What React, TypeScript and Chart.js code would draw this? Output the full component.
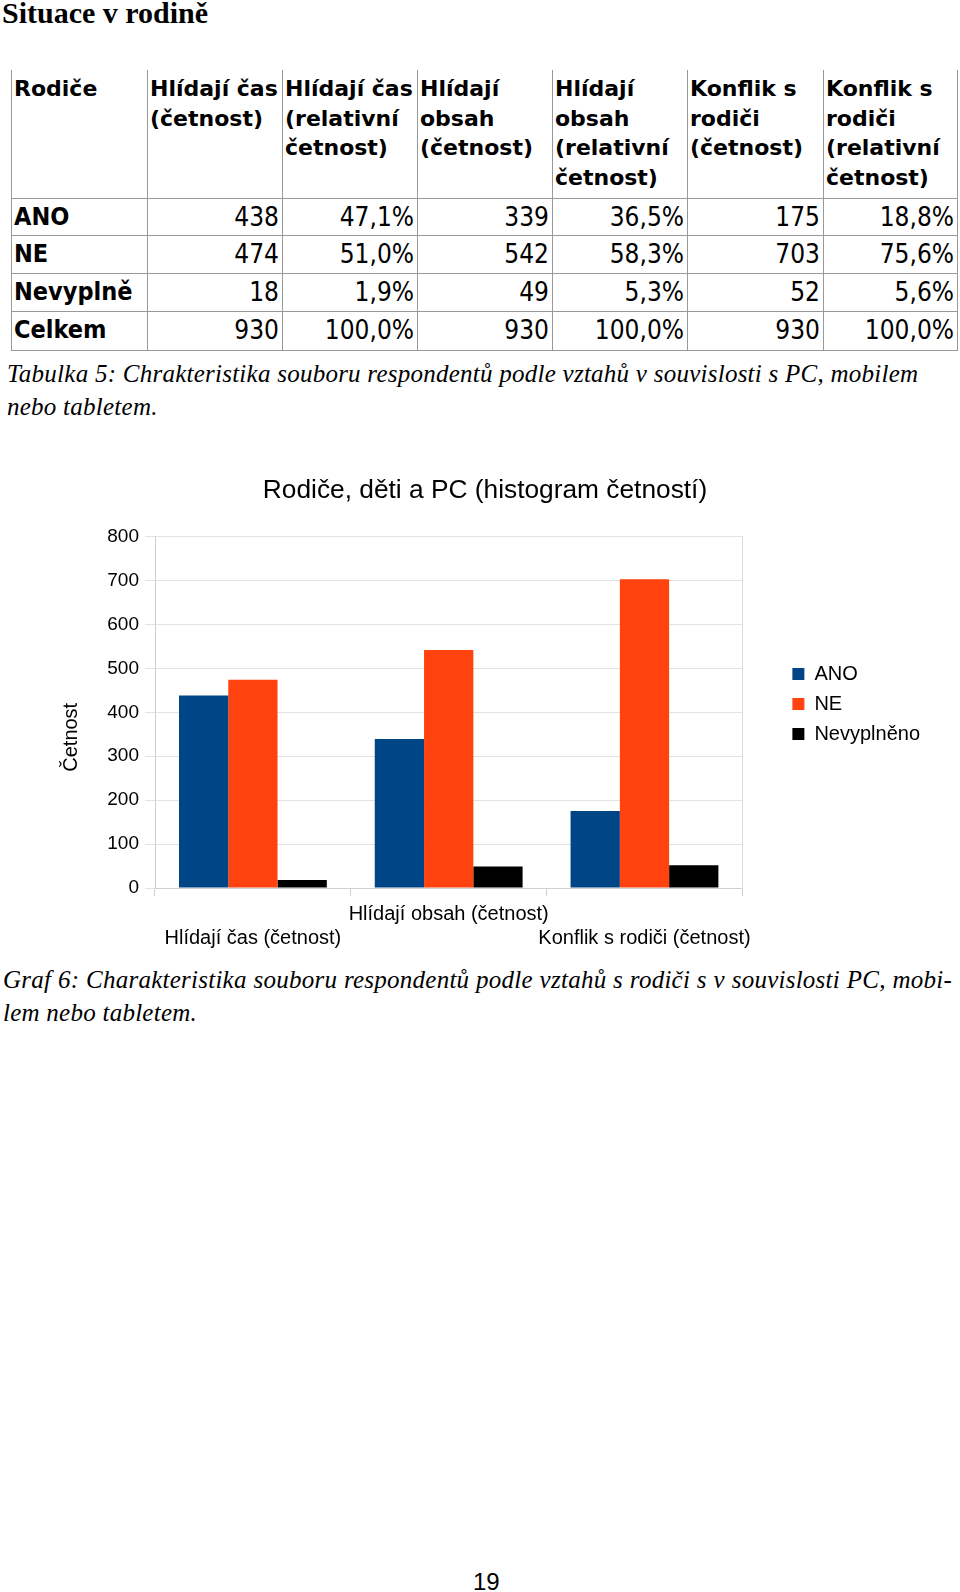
import React, { useEffect, useRef } from "react";
import { Chart, registerables } from "chart.js";

Chart.register(...registerables);

// ---------- chart data ----------
const categories = ["Hlídají čas (četnost)", "Hlídají obsah (četnost)", "Konflik s rodiči (četnost)"];
const seriesNames = ["ANO", "NE", "Nevyplněno"];
const anoValues = [438, 339, 175];
const neValues = [474, 542, 703];
const nevyplnenoValues = [18, 49, 52];
const seriesColors = ["#004586", "#ff420e", "#000000"];
const yMin = 0;
const yMax = 800;
const yStep = 100;
const chartTitle = "Rodiče, děti a PC (histogram četností)";
const yTitle = "Četnost";

// ---------- table data ----------
const tableHeaders = [
  ["Rodiče"],
  ["Hlídají čas", "(četnost)"],
  ["Hlídají čas", "(relativní", "četnost)"],
  ["Hlídají", "obsah", "(četnost)"],
  ["Hlídají", "obsah", "(relativní", "četnost)"],
  ["Konflik s", "rodiči", "(četnost)"],
  ["Konflik s", "rodiči", "(relativní", "četnost)"],
];
const rowLabels = ["ANO", "NE", "Nevyplně", "Celkem"];
const tableRows = [
  ["438", "47,1%", "339", "36,5%", "175", "18,8%"],
  ["474", "51,0%", "542", "58,3%", "703", "75,6%"],
  ["18", "1,9%", "49", "5,3%", "52", "5,6%"],
  ["930", "100,0%", "930", "100,0%", "930", "100,0%"],
];

const heading = "Situace v rodině";
const caption1Lines = [
  "Tabulka 5: Chrakteristika souboru respondentů podle vztahů v souvislosti s PC, mobilem",
  "nebo tabletem.",
];
const caption2Lines = [
  "Graf 6: Charakteristika souboru respondentů podle vztahů s rodiči s v souvislosti PC, mobi-",
  "lem nebo tabletem.",
];
const pageNumber = "19";

const SANS = "'Liberation Sans', Arial, sans-serif";
const SERIF = "'Liberation Serif', 'Times New Roman', serif";
const COND = "'DejaVu Sans Condensed', 'DejaVu Sans', sans-serif";

const colX = [11, 147, 282, 417, 552, 687, 823, 957];
const rowY = [70, 198, 235, 273, 311, 350];
const LINE = "#999999";

const legendShift = {
  id: "legendShift",
  afterLayout(chart: any) {
    const lg = chart.legend;
    if (lg) {
      lg.top -= 4;
      lg.bottom -= 4;
    }
  },
};

function BarChart() {
  const ref = useRef<HTMLCanvasElement | null>(null);
  useEffect(() => {
    if (!ref.current) return;
    const seriesValues = [anoValues, neValues, nevyplnenoValues];
    const chart = new Chart(ref.current, {
      type: "bar",
      data: {
        labels: categories,
        datasets: seriesNames.map((name, i) => ({
          label: name,
          data: seriesValues[i],
          backgroundColor: seriesColors[i],
          borderWidth: 0,
          categoryPercentage: 0.755,
          barPercentage: 1,
        })),
      },
      options: {
        responsive: false,
        animation: false,
        devicePixelRatio: 1,
        layout: { padding: { left: 0, right: 10, top: 0, bottom: 0 } },
        plugins: {
          title: {
            display: true,
            text: chartTitle,
            color: "#000",
            font: { family: SANS, size: 26.3, weight: "normal" },
            padding: { top: 15, bottom: 30 },
          },
          legend: {
            position: "right",
            labels: {
              color: "#000",
              font: { family: SANS, size: 20 },
              boxWidth: 12,
              boxHeight: 12,
              padding: 10,
            },
          },
          tooltip: { enabled: false },
        },
        scales: {
          x: {
            grid: { display: true, drawOnChartArea: false, tickLength: 8, color: "#cfcfcf", offset: true },
            border: { display: true, color: "#cfcfcf" },
            ticks: {
              color: "#000",
              font: { family: SANS, size: 20 },
              padding: 6,
              maxRotation: 0,
              autoSkip: false,
              callback: (_v: any, i: number) => {
                const l = categories[i];
                return i % 2 === 1 ? [l, ""] : ["", l];
              },
            },
          },
          y: {
            min: yMin,
            max: yMax,
            ticks: { stepSize: yStep, color: "#000", font: { family: SANS, size: 19 }, padding: 6 },
            grid: { color: "#e3e3e3", tickLength: 10 },
            border: { display: true, color: "#cfcfcf" },
            title: {
              display: true,
              text: yTitle + "         ",
              color: "#000",
              font: { family: SANS, size: 20 },
              padding: { top: 19, bottom: 0 },
            },
            afterFit: (s: any) => {
              s.width = 115;
            },
          },
          y2: {
            position: "right",
            display: true,
            grid: { display: false },
            ticks: { display: false },
            border: { display: true, color: "#dcdcdc" },
            afterFit: (s: any) => {
              s.width = 40;
            },
          },
        },
      },
      plugins: [legendShift],
    } as any);
    return () => chart.destroy();
  }, []);
  return (
    <canvas
      ref={ref}
      width={900}
      height={496}
      style={{ position: "absolute", left: 40, top: 460, width: 900, height: 496 }}
    />
  );
}

export default function App() {
  const lines: React.ReactNode[] = [];
  colX.forEach((x, i) => {
    lines.push(
      <div key={"v" + i} style={{ position: "absolute", left: x, top: rowY[0], width: 1, height: rowY[rowY.length - 1] - rowY[0] + 1, background: LINE }} />
    );
  });
  rowY.slice(1).forEach((y, i) => {
    lines.push(
      <div key={"h" + i} style={{ position: "absolute", left: colX[0], top: y, width: colX[colX.length - 1] - colX[0] + 1, height: 1, background: LINE }} />
    );
  });

  return (
    <div style={{ position: "absolute", left: 0, top: 0, width: 960, height: 1592, overflow: "hidden", background: "#fff", color: "#000" }}>
      <div style={{ position: "absolute", left: 2, top: -2, fontFamily: SERIF, fontWeight: "bold", fontSize: 30, lineHeight: "30px", whiteSpace: "nowrap" }}>
        {heading}
      </div>

      {lines}

      {tableHeaders.map((h, i) => (
        <div
          key={"th" + i}
          style={{
            position: "absolute",
            left: colX[i] + 3,
            top: rowY[0] + 4,
            fontFamily: "'DejaVu Sans', sans-serif",
            fontWeight: "bold",
            fontSize: 22,
            lineHeight: "29.5px",
            whiteSpace: "nowrap",
          }}
        >
          {h.map((t, k) => (
            <div key={k}>{t}</div>
          ))}
        </div>
      ))}

      {rowLabels.map((lab, r) => (
        <React.Fragment key={"r" + r}>
          <div
            style={{
              position: "absolute",
              left: colX[0] + 3,
              top: rowY[r + 1] + 6,
              fontFamily: COND,
              fontStretch: "condensed",
              fontWeight: "bold",
              fontSize: 25,
              lineHeight: "26px",
              whiteSpace: "nowrap",
            }}
          >
            {lab}
          </div>
          {tableRows[r].map((v, c) => (
            <div
              key={c}
              style={{
                position: "absolute",
                left: colX[c + 1],
                width: colX[c + 2] - colX[c + 1] - 3,
                top: rowY[r + 1] + 6,
                textAlign: "right",
                fontFamily: COND,
                fontStretch: "condensed",
                fontSize: 26,
                lineHeight: "26px",
                whiteSpace: "nowrap",
              }}
            >
              {v}
            </div>
          ))}
        </React.Fragment>
      ))}

      {caption1Lines.map((t, i) => (
        <div
          key={"c1" + i}
          style={{ position: "absolute", left: 7, top: 361 + i * 33, fontFamily: SERIF, fontStyle: "italic", fontSize: 25, lineHeight: "25px", letterSpacing: 0.25, whiteSpace: "nowrap" }}
        >
          {t}
        </div>
      ))}

      <BarChart />

      {caption2Lines.map((t, i) => (
        <div
          key={"c2" + i}
          style={{
            position: "absolute",
            left: 3,
            top: 967 + i * 33,
            width: i === 0 ? 949 : undefined,
            textAlign: i === 0 ? "justify" : "left",
            textAlignLast: i === 0 ? "justify" : "left",
            fontFamily: SERIF,
            fontStyle: "italic",
            fontSize: 25,
            lineHeight: "25px",
            letterSpacing: 0.25,
            whiteSpace: i === 0 ? "normal" : "nowrap",
          } as any}
        >
          {t}
        </div>
      ))}

      <div style={{ position: "absolute", left: 473, top: 1570, fontFamily: SANS, fontSize: 24, lineHeight: "24px" }}>
        {pageNumber}
      </div>
    </div>
  );
}
